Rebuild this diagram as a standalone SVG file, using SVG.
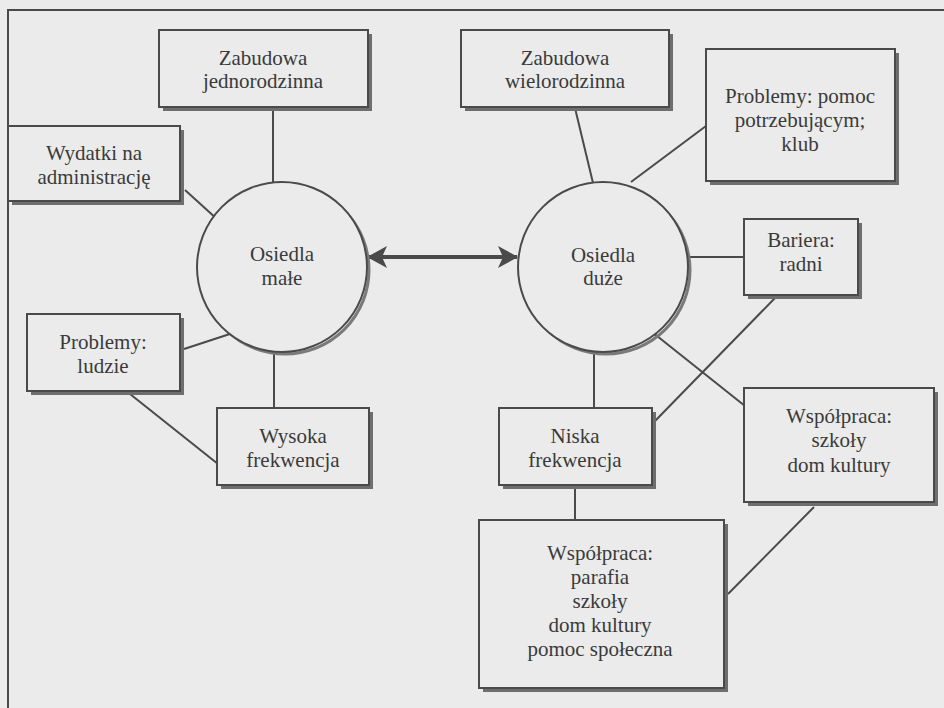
<svg xmlns="http://www.w3.org/2000/svg" width="944" height="708" viewBox="0 0 944 708">
  <style>
    .bg { fill: #ebebeb; }
    .frame { fill: none; stroke: #4a4a4a; stroke-width: 2; }
    .box { fill: #ebebeb; stroke: #4a4a4a; stroke-width: 2; }
    .shadow { fill: #6e6e6e; }
    .circ { fill: #ebebeb; stroke: #4a4a4a; stroke-width: 2; }
    .cshadow { fill: none; stroke: #7a7a7a; stroke-width: 3; }
    .link { stroke: #4a4a4a; stroke-width: 2; fill: none; }
    .arrow { stroke: #4a4a4a; stroke-width: 4; fill: none; }
    .lbl { font-family: "Liberation Serif", Tinos, "Times New Roman", serif; font-size: 21px; fill: #3a3a3a; text-anchor: middle; }
  </style>
  <defs>
    <marker id="head" viewBox="0 0 20 22" refX="19" refY="11" markerWidth="20" markerHeight="22" markerUnits="userSpaceOnUse" orient="auto-start-reverse">
      <path d="M0,0 L20,11 L0,22 L5,11 Z" fill="#4a4a4a"/>
    </marker>
  </defs>

  <rect class="bg" x="0" y="0" width="944" height="708"/>
  <!-- outer frame, right and bottom edges run off the page -->
  <rect class="frame" x="8" y="10" width="960" height="720"/>

  <!-- connectors -->
  <g id="connectors">
    <line class="link" x1="273" y1="108" x2="273" y2="183"/>
    <line class="link" x1="185" y1="190" x2="218" y2="220"/>
    <line class="link" x1="184" y1="349" x2="236" y2="332"/>
    <line class="link" x1="274" y1="351" x2="274" y2="409"/>
    <line class="link" x1="130" y1="394" x2="218" y2="464"/>
    <line class="link" x1="575" y1="108" x2="593" y2="183"/>
    <line class="link" x1="706" y1="126" x2="631" y2="182"/>
    <line class="link" x1="688" y1="257" x2="745" y2="257"/>
    <line class="link" x1="775" y1="298" x2="655" y2="421"/>
    <line class="link" x1="652" y1="332" x2="745" y2="406"/>
    <line class="link" x1="594" y1="351" x2="594" y2="409"/>
    <line class="link" x1="575" y1="488" x2="575" y2="521"/>
    <line class="link" x1="814" y1="507" x2="728" y2="594"/>
    <line class="arrow" x1="368" y1="257" x2="517" y2="257" marker-start="url(#head)" marker-end="url(#head)"/>
  </g>

  <!-- small settlements -->
  <g id="osiedla-male">
    <circle class="cshadow" cx="285" cy="270" r="84"/>
    <circle class="circ" cx="282" cy="267" r="85"/>
    <text class="lbl" x="282" y="261">Osiedla</text>
    <text class="lbl" x="282" y="285">małe</text>
  </g>

  <g id="zabudowa-jednorodzinna">
    <rect class="shadow" x="163" y="34" width="209" height="77"/>
    <rect class="box" x="159" y="30" width="209" height="77"/>
    <text class="lbl" x="263" y="65">Zabudowa</text>
    <text class="lbl" x="263" y="88">jednorodzinna</text>
  </g>

  <g id="wydatki">
    <rect class="shadow" x="12" y="130" width="172" height="75"/>
    <rect class="box" x="8" y="126" width="172" height="75"/>
    <text class="lbl" x="94" y="160">Wydatki na</text>
    <text class="lbl" x="94" y="184">administrację</text>
  </g>

  <g id="problemy-ludzie">
    <rect class="shadow" x="31" y="318" width="153" height="77"/>
    <rect class="box" x="27" y="314" width="153" height="77"/>
    <text class="lbl" x="103" y="349">Problemy:</text>
    <text class="lbl" x="103" y="373">ludzie</text>
  </g>

  <g id="wysoka-frekwencja">
    <rect class="shadow" x="221" y="412" width="152" height="77"/>
    <rect class="box" x="217" y="408" width="152" height="77"/>
    <text class="lbl" x="293" y="443">Wysoka</text>
    <text class="lbl" x="293" y="467">frekwencja</text>
  </g>

  <!-- large settlements -->
  <g id="osiedla-duze">
    <circle class="cshadow" cx="606" cy="270" r="84"/>
    <circle class="circ" cx="603" cy="267" r="85"/>
    <text class="lbl" x="603" y="262">Osiedla</text>
    <text class="lbl" x="603" y="285">duże</text>
  </g>

  <g id="zabudowa-wielorodzinna">
    <rect class="shadow" x="465" y="34" width="208" height="77"/>
    <rect class="box" x="461" y="30" width="208" height="77"/>
    <text class="lbl" x="565" y="65">Zabudowa</text>
    <text class="lbl" x="565" y="88">wielorodzinna</text>
  </g>

  <g id="problemy-pomoc">
    <rect class="shadow" x="710" y="53" width="189" height="132"/>
    <rect class="box" x="706" y="49" width="189" height="132"/>
    <text class="lbl" x="800" y="103">Problemy: pomoc</text>
    <text class="lbl" x="800" y="127">potrzebującym;</text>
    <text class="lbl" x="800" y="151">klub</text>
  </g>

  <g id="bariera">
    <rect class="shadow" x="748" y="223" width="114" height="76"/>
    <rect class="box" x="744" y="219" width="114" height="76"/>
    <text class="lbl" x="801" y="247">Bariera:</text>
    <text class="lbl" x="801" y="271">radni</text>
  </g>

  <g id="wspolpraca-szkoly">
    <rect class="shadow" x="748" y="392" width="190" height="114"/>
    <rect class="box" x="744" y="388" width="190" height="114"/>
    <text class="lbl" x="839" y="423">Współpraca:</text>
    <text class="lbl" x="839" y="447">szkoły</text>
    <text class="lbl" x="839" y="472">dom kultury</text>
  </g>

  <g id="niska-frekwencja">
    <rect class="shadow" x="503" y="412" width="153" height="77"/>
    <rect class="box" x="499" y="408" width="153" height="77"/>
    <text class="lbl" x="575" y="443">Niska</text>
    <text class="lbl" x="575" y="467">frekwencja</text>
  </g>

  <g id="wspolpraca-parafia">
    <rect class="shadow" x="483" y="524" width="245" height="168"/>
    <rect class="box" x="479" y="520" width="245" height="168"/>
    <text class="lbl" x="600" y="560">Współpraca:</text>
    <text class="lbl" x="600" y="584">parafia</text>
    <text class="lbl" x="600" y="608">szkoły</text>
    <text class="lbl" x="600" y="632">dom kultury</text>
    <text class="lbl" x="600" y="656">pomoc społeczna</text>
  </g>
</svg>
